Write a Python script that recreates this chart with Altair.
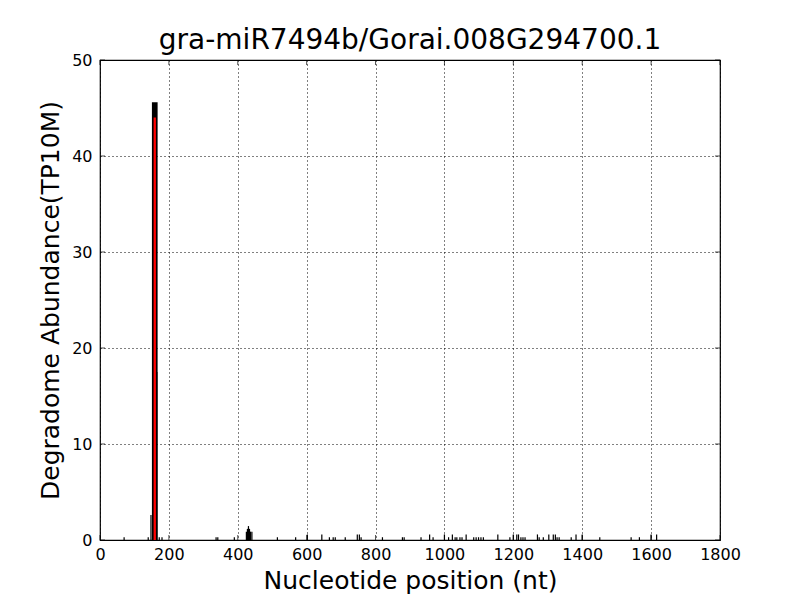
import altair as alt
import pandas as pd

# Degradome reads (position in nt, abundance TP10M)
positions = [70, 140, 148, 165, 172, 180,
             337, 342, 390, 425, 428, 431, 434, 437, 441, 515, 568, 602,
             644, 666, 677, 683, 712, 747, 753, 758, 820, 878, 883,
             932, 957, 967, 1000, 1012, 1023, 1031, 1036, 1045, 1051, 1063,
             1085, 1092, 1099, 1106, 1113, 1155,
             1190, 1200, 1210, 1215, 1222, 1228, 1234, 1270, 1275, 1287, 1303,
             1316, 1322, 1327, 1333, 1368, 1382, 1400, 1451,
             1542, 1566, 1600, 1616]
abundance = [0.29, 0.29, 2.6, 17.5, 0.29, 0.29,
             0.29, 0.29, 0.29, 0.87, 1.16, 1.45, 1.16, 0.87, 0.87, 0.29, 0.29, 0.58,
             0.58, 0.29, 0.29, 0.29, 0.29, 0.58, 0.58, 0.29, 0.29, 0.29, 0.29,
             0.29, 0.58, 0.29, 0.58, 0.29, 0.58, 0.29, 0.29, 0.29, 0.29, 0.58,
             0.29, 0.29, 0.29, 0.29, 0.29, 0.58,
             0.29, 0.58, 0.58, 0.58, 0.29, 0.29, 0.29, 0.58, 0.29, 0.29, 0.58,
             0.58, 0.58, 0.29, 0.29, 0.29, 0.58, 0.58, 0.29,
             0.29, 0.29, 0.58, 0.58]

peak_position = [159]
peak_abundance = [45.6]

cleave_position = [159]
cleave_abundance = [44.0]

x_ticks = [0, 200, 400, 600, 800, 1000, 1200, 1400, 1600, 1800]
y_ticks = [0, 10, 20, 30, 40, 50]

title = "gra-miR7494b/Gorai.008G294700.1"

W, H = 620, 480
FONT = "DejaVu Sans"
TL = 5  # inward tick length

reads = pd.DataFrame({"x": positions, "y": abundance})
peak = pd.DataFrame({"x": peak_position, "y": peak_abundance})
cleave = pd.DataFrame({"x": cleave_position, "y": cleave_abundance})
xt = pd.DataFrame({"x": x_ticks})
yt = pd.DataFrame({"y": y_ticks})

xscale = alt.Scale(domain=[0, 1800], nice=False, zero=False)
yscale = alt.Scale(domain=[0, 50], nice=False, zero=True)

xaxis = alt.Axis(values=x_ticks, format="d", grid=True, gridColor="black", gridDash=[1, 3],
                 gridWidth=1, gridOpacity=1, ticks=False, domain=False,
                 labelFont=FONT, labelFontSize=16, labelColor="black", labelPadding=6,
                 title="Nucleotide position (nt)", titleFont=FONT, titleFontSize=25,
                 titleFontWeight="normal", titleColor="black", titlePadding=6,
                 labelFlush=False)
yaxis = alt.Axis(values=y_ticks, format="d", grid=True, gridColor="black", gridDash=[1, 3],
                 gridWidth=1, gridOpacity=1, ticks=False, domain=False,
                 labelFont=FONT, labelFontSize=16, labelColor="black", labelPadding=8,
                 title="Degradome Abundance(TP10M)", titleFont=FONT, titleFontSize=25,
                 titleFontWeight="normal", titleColor="black", titlePadding=8,
                 labelFlush=False)

X = alt.X("x:Q", scale=xscale, axis=xaxis)
Y = alt.Y("y:Q", scale=yscale, axis=yaxis)

bars = alt.Chart(reads).mark_rule(color="black", strokeWidth=1.2).encode(
    x=X, y=Y, y2=alt.datum(0),
)
peak_bar = alt.Chart(peak).mark_rule(color="black", strokeWidth=5.7, strokeCap="butt").encode(
    x=X, y=Y, y2=alt.datum(0),
)
cleave_bar = alt.Chart(cleave).mark_rule(color="red", strokeWidth=2.3, strokeCap="butt").encode(
    x=X, y=Y, y2=alt.datum(0),
)

# inward ticks on all four sides
xt_bottom = alt.Chart(xt).mark_tick(color="black", size=TL, thickness=1).encode(
    x=X, y=alt.value(H - TL / 2))
xt_top = alt.Chart(xt).mark_tick(color="black", size=TL, thickness=1).encode(
    x=X, y=alt.value(TL / 2))
yt_left = alt.Chart(yt).mark_tick(color="black", size=TL, thickness=1).encode(
    y=Y, x=alt.value(TL / 2))
yt_right = alt.Chart(yt).mark_tick(color="black", size=TL, thickness=1).encode(
    y=Y, x=alt.value(W - TL / 2))

chart = alt.layer(
    bars, peak_bar, cleave_bar,
    xt_bottom, xt_top, yt_left, yt_right,
).properties(
    width=W, height=H,
    background="white",
    title=alt.TitleParams(title, font=FONT, fontSize=28, fontWeight="normal",
                          color="black", anchor="middle", offset=-3),
    autosize=alt.AutoSizeParams(type="none"),
    padding={"left": 92, "top": 52, "right": 72, "bottom": 60},
).configure_view(
    stroke="black", strokeWidth=1.2, fill="white"
)

chart.save("out.html", embed_options={"renderer": "svg", "actions": False})
